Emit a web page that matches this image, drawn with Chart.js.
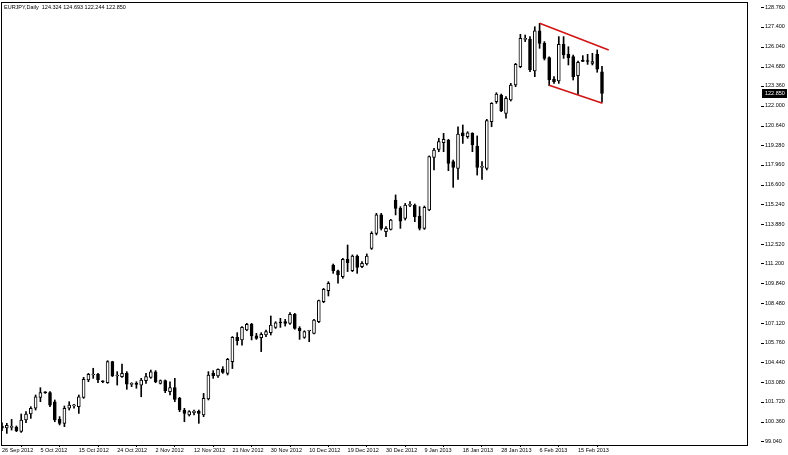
<!DOCTYPE html>
<html lang="en">
<head>
<meta charset="UTF-8">
<title>EURJPY,Daily</title>
<script src="https://cdn.jsdelivr.net/npm/chart.js"></script>
<style>
  body { margin: 0; background: #fff; }
  #wrap { width: 788px; height: 455px; }
</style>
</head>
<body>
<div id="wrap"><canvas id="chart"></canvas></div>
<script>
const symbol = 'EURJPY,Daily';

// one bar per trading day (broker has Sunday bars, no Saturdays, no 25 Dec / 1 Jan)
const dates = [
  '26 Sep 2012', '27 Sep 2012', '28 Sep 2012', '30 Sep 2012',
  '1 Oct 2012', '2 Oct 2012', '3 Oct 2012', '4 Oct 2012', '5 Oct 2012',
  '7 Oct 2012', '8 Oct 2012', '9 Oct 2012', '10 Oct 2012', '11 Oct 2012', '12 Oct 2012',
  '14 Oct 2012', '15 Oct 2012', '16 Oct 2012', '17 Oct 2012', '18 Oct 2012', '19 Oct 2012',
  '21 Oct 2012', '22 Oct 2012', '23 Oct 2012', '24 Oct 2012', '25 Oct 2012', '26 Oct 2012',
  '28 Oct 2012', '29 Oct 2012', '30 Oct 2012', '31 Oct 2012', '1 Nov 2012', '2 Nov 2012',
  '4 Nov 2012', '5 Nov 2012', '6 Nov 2012', '7 Nov 2012', '8 Nov 2012', '9 Nov 2012',
  '11 Nov 2012', '12 Nov 2012', '13 Nov 2012', '14 Nov 2012', '15 Nov 2012', '16 Nov 2012',
  '18 Nov 2012', '19 Nov 2012', '20 Nov 2012', '21 Nov 2012', '22 Nov 2012', '23 Nov 2012',
  '25 Nov 2012', '26 Nov 2012', '27 Nov 2012', '28 Nov 2012', '29 Nov 2012', '30 Nov 2012',
  '2 Dec 2012', '3 Dec 2012', '4 Dec 2012', '5 Dec 2012', '6 Dec 2012', '7 Dec 2012',
  '9 Dec 2012', '10 Dec 2012', '11 Dec 2012', '12 Dec 2012', '13 Dec 2012', '14 Dec 2012',
  '16 Dec 2012', '17 Dec 2012', '18 Dec 2012', '19 Dec 2012', '20 Dec 2012', '21 Dec 2012',
  '23 Dec 2012', '24 Dec 2012', '26 Dec 2012', '27 Dec 2012', '28 Dec 2012',
  '30 Dec 2012', '31 Dec 2012', '2 Jan 2013', '3 Jan 2013', '4 Jan 2013',
  '6 Jan 2013', '7 Jan 2013', '8 Jan 2013', '9 Jan 2013', '10 Jan 2013', '11 Jan 2013',
  '13 Jan 2013', '14 Jan 2013', '15 Jan 2013', '16 Jan 2013', '17 Jan 2013', '18 Jan 2013',
  '20 Jan 2013', '21 Jan 2013', '22 Jan 2013', '23 Jan 2013', '24 Jan 2013', '25 Jan 2013',
  '27 Jan 2013', '28 Jan 2013', '29 Jan 2013', '30 Jan 2013', '31 Jan 2013', '1 Feb 2013',
  '3 Feb 2013', '4 Feb 2013', '5 Feb 2013', '6 Feb 2013', '7 Feb 2013', '8 Feb 2013',
  '10 Feb 2013', '11 Feb 2013', '12 Feb 2013', '13 Feb 2013', '14 Feb 2013', '15 Feb 2013',
  '17 Feb 2013', '18 Feb 2013', '19 Feb 2013', '20 Feb 2013', '21 Feb 2013'
];

const opens = [
  100.07, 99.93, 99.97, 99.97, 99.70, 100.48, 100.89, 101.28, 102.03, 102.35,
  102.35, 101.73, 100.52, 100.25, 101.28, 101.44, 101.39, 102.03, 103.22, 103.56,
  103.60, 103.12, 103.03, 104.47, 103.49, 103.45, 103.67, 102.92, 102.94, 102.87,
  103.17, 103.40, 103.77, 102.99, 103.17, 102.42, 102.69, 101.96, 101.16, 100.82,
  100.98, 101.07, 100.82, 101.92, 103.67, 103.49, 103.97, 103.67, 104.47, 106.14,
  105.96, 106.64, 107.03, 106.25, 106.12, 106.30, 106.46, 106.82, 107.14, 107.21,
  107.10, 107.71, 106.75, 106.14, 106.57, 106.41, 107.21, 108.58, 109.33, 111.09,
  110.70, 110.29, 111.48, 110.70, 111.71, 110.98, 111.16, 112.23, 113.26, 114.52,
  113.37, 113.53, 115.54, 114.97, 114.29, 115.18, 115.20, 114.45, 113.60, 114.86,
  118.46, 119.01, 119.47, 119.65, 118.17, 117.71, 120.15, 119.88, 120.11, 119.24,
  117.78, 117.71, 120.91, 122.28, 122.73, 121.48, 122.39, 123.42, 124.67, 126.54,
  126.57, 124.38, 127.12, 126.27, 125.29, 123.83, 123.69, 126.20, 125.52, 125.36,
  124.06, 125.06, 125.06, 124.90, 125.52, 124.324
];
const highs = [
  100.29, 100.25, 100.52, 100.07, 100.89, 101.05, 101.39, 102.19, 102.69, 102.42,
  102.42, 101.85, 100.71, 101.44, 101.73, 101.55, 102.19, 103.40, 103.67, 104.02,
  103.67, 103.17, 104.54, 104.50, 103.79, 104.31, 103.79, 103.03, 103.10, 103.33,
  103.67, 103.90, 103.86, 103.22, 103.22, 103.10, 103.33, 102.03, 101.28, 101.12,
  101.16, 101.16, 102.30, 103.79, 103.86, 103.99, 104.13, 104.70, 106.19, 106.46,
  106.87, 107.10, 107.10, 106.41, 106.46, 106.64, 107.60, 107.21, 107.44, 107.37,
  107.83, 107.78, 106.87, 106.59, 106.62, 107.37, 108.69, 109.49, 109.95, 111.16,
  110.75, 111.55, 112.46, 111.78, 111.78, 111.32, 111.85, 113.37, 114.63, 114.63,
  113.72, 114.22, 115.89, 115.09, 115.31, 115.43, 115.27, 115.09, 115.13, 118.56,
  119.08, 119.77, 120.11, 119.70, 118.28, 120.56, 120.68, 120.22, 120.15, 119.93,
  118.17, 121.07, 122.21, 122.89, 122.80, 122.62, 123.53, 124.90, 126.89, 126.84,
  126.73, 127.41, 127.64, 126.39, 125.35, 123.99, 126.73, 126.73, 126.04, 125.47,
  125.06, 125.43, 125.52, 125.59, 125.82, 124.693
];
const lows = [
  99.75, 99.56, 99.79, 99.68, 99.63, 100.29, 100.59, 101.16, 101.73, 102.30,
  101.39, 100.36, 100.14, 100.02, 101.16, 101.28, 100.93, 101.96, 103.10, 103.33,
  103.03, 103.03, 102.99, 103.45, 102.87, 103.40, 102.58, 102.76, 102.65, 102.07,
  102.99, 103.33, 103.03, 102.94, 102.35, 102.19, 101.73, 101.05, 100.36, 100.75,
  100.82, 100.25, 100.71, 101.85, 103.33, 103.40, 103.67, 103.56, 104.00, 105.61,
  105.61, 106.59, 105.96, 106.00, 105.16, 106.18, 106.30, 106.75, 106.82, 106.91,
  107.03, 106.69, 106.00, 106.07, 105.84, 106.37, 107.14, 108.51, 108.97, 110.52,
  109.84, 110.18, 110.64, 110.64, 110.52, 110.91, 111.09, 112.16, 113.15, 113.49,
  113.03, 113.49, 114.52, 113.60, 114.17, 115.09, 114.06, 113.49, 113.53, 114.81,
  117.60, 118.85, 118.85, 117.55, 116.41, 116.96, 119.42, 119.77, 118.85, 117.25,
  116.96, 117.60, 120.56, 122.16, 121.59, 121.14, 122.32, 123.30, 124.60, 126.39,
  124.33, 123.99, 125.93, 125.13, 123.37, 123.53, 123.53, 125.24, 124.79, 123.76,
  122.78, 125.02, 124.83, 124.79, 124.29, 122.244
];
const closes = [
  99.91, 100.11, 99.99, 99.75, 100.48, 100.89, 101.28, 102.07, 102.35, 102.33,
  101.50, 100.48, 100.25, 101.28, 101.50, 101.46, 102.07, 103.26, 103.60, 103.58,
  103.22, 103.10, 104.47, 103.49, 103.51, 103.67, 102.94, 102.94, 102.92, 103.22,
  103.45, 103.77, 103.10, 103.17, 102.49, 102.69, 101.89, 101.16, 100.93, 101.05,
  101.09, 100.93, 101.96, 103.56, 103.51, 103.95, 103.74, 104.63, 106.14, 105.91,
  106.82, 107.03, 106.23, 106.07, 106.34, 106.53, 106.98, 107.14, 107.12, 107.10,
  107.71, 106.75, 106.59, 106.53, 106.59, 107.32, 108.65, 109.43, 109.84, 110.70,
  110.41, 111.48, 111.25, 111.71, 110.93, 111.20, 111.71, 113.26, 114.52, 113.60,
  113.60, 114.17, 114.97, 114.10, 115.20, 115.20, 114.40, 113.60, 115.04, 118.51,
  118.97, 119.54, 119.70, 118.05, 117.78, 120.06, 119.93, 120.15, 119.31, 117.78,
  117.80, 120.98, 122.16, 122.80, 121.65, 122.50, 123.42, 124.83, 126.61, 126.59,
  124.45, 127.12, 126.27, 125.24, 123.76, 123.65, 126.20, 125.47, 125.29, 123.99,
  124.97, 125.04, 125.03, 125.02, 124.51, 122.850
];

// price scale labels as printed on the right axis
const priceTicks = [
  128.760, 127.400, 126.040, 124.680, 123.360, 122.000, 120.640, 119.280,
  117.960, 116.600, 115.240, 113.880, 112.520, 111.200, 109.840, 108.480,
  107.120, 105.760, 104.440, 103.080, 101.720, 100.360, 99.040
];

// red channel trend lines (bar index, price)
const upperLine = [{ x: 112, y: 127.64 }, { x: 126.4, y: 125.82 }];
const lowerLine = [{ x: 114, y: 123.40 }, { x: 125.1, y: 122.17 }];

const last = dates.length - 1;
const font = { family: 'Liberation Sans', size: 5.5 };

const bodies = dates.map((d, i) => ({ x: i, y: [opens[i], closes[i]] }));
const wicks = dates.map((d, i) => ({ x: i, y: [lows[i], highs[i]] }));
const bodyColors = dates.map((d, i) => closes[i] >= opens[i] ? '#ffffff' : '#000000');

// frame, axis dashes, header line and the current price box, like a MT4 window
const mtDecor = {
  id: 'mtDecor',
  afterDraw(chart) {
    const { ctx, chartArea: a, scales: { y } } = chart;
    ctx.save();
    ctx.strokeStyle = '#000';
    ctx.lineWidth = 1;
    ctx.strokeRect(Math.round(a.left) + 0.5, Math.round(a.top) + 0.5,
      Math.round(a.right - a.left), Math.round(a.bottom - a.top));

    priceTicks.forEach(v => {
      const py = Math.round(y.getPixelForValue(v)) + 0.5;
      ctx.beginPath();
      ctx.moveTo(a.right + 14, py);
      ctx.lineTo(a.right + 17, py);
      ctx.stroke();
    });

    ctx.font = font.size + 'px ' + font.family;
    ctx.textBaseline = 'middle';
    ctx.fillStyle = '#000';
    const ohlc = [opens[last], highs[last], lows[last], closes[last]].map(v => v.toFixed(3)).join(' ');
    ctx.fillText(symbol + '  ' + ohlc, a.left + 3, a.top + 5);

    const cy = y.getPixelForValue(closes[last]);
    ctx.fillRect(a.right + 15, Math.round(cy) - 4, 25, 9);
    ctx.fillStyle = '#fff';
    ctx.fillText(closes[last].toFixed(3), a.right + 18, Math.round(cy) + 0.5);
    ctx.restore();
  }
};

new Chart(document.getElementById('chart'), {
  type: 'bar',
  data: {
    datasets: [
      {
        label: 'Body', data: bodies, order: 1, grouped: false,
        backgroundColor: bodyColors, borderColor: '#000', borderWidth: 1,
        borderSkipped: false, barThickness: 3, minBarLength: 1
      },
      {
        label: 'Wick', data: wicks, order: 2, grouped: false,
        backgroundColor: '#000', borderWidth: 0, barThickness: 1
      },
      {
        type: 'line', label: 'Upper', data: upperLine, order: 0,
        borderColor: '#d01414', borderWidth: 1.6, pointRadius: 0
      },
      {
        type: 'line', label: 'Lower', data: lowerLine, order: 0,
        borderColor: '#d01414', borderWidth: 1.6, pointRadius: 0
      }
    ]
  },
  options: {
    responsive: true,
    maintainAspectRatio: false,
    animation: false,
    layout: { padding: { left: 1, top: 2, right: 0, bottom: 0 } },
    plugins: { legend: { display: false }, tooltip: { enabled: false } },
    scales: {
      x: {
        type: 'linear', min: -0.21, max: 155.21, offset: false,
        grid: { drawOnChartArea: false, drawTicks: true, tickLength: 2, color: '#000' },
        border: { display: false },
        afterBuildTicks: s => {
          s.ticks = dates.map((d, i) => i).filter(i => i % 8 === 0).map(v => ({ value: v }));
        },
        afterFit: s => { s.height = 10; s.paddingLeft = 0; s.paddingRight = 0; },
        ticks: {
          autoSkip: false, maxRotation: 0, align: 'start', padding: 0,
          color: '#000', font: font, callback: v => dates[v]
        }
      },
      y: {
        position: 'right', min: 98.766, max: 129.102,
        grid: { drawOnChartArea: false, drawTicks: false },
        border: { display: false },
        afterBuildTicks: s => { s.ticks = priceTicks.map(v => ({ value: v })); },
        // keep the label padding from pushing the plot area in
        afterFit: s => { s.width = 41; s.paddingTop = 0; s.paddingBottom = 0; },
        ticks: { padding: 18, color: '#000', font: font, callback: v => v.toFixed(3) }
      }
    }
  },
  plugins: [mtDecor]
});
</script>
</body>
</html>
